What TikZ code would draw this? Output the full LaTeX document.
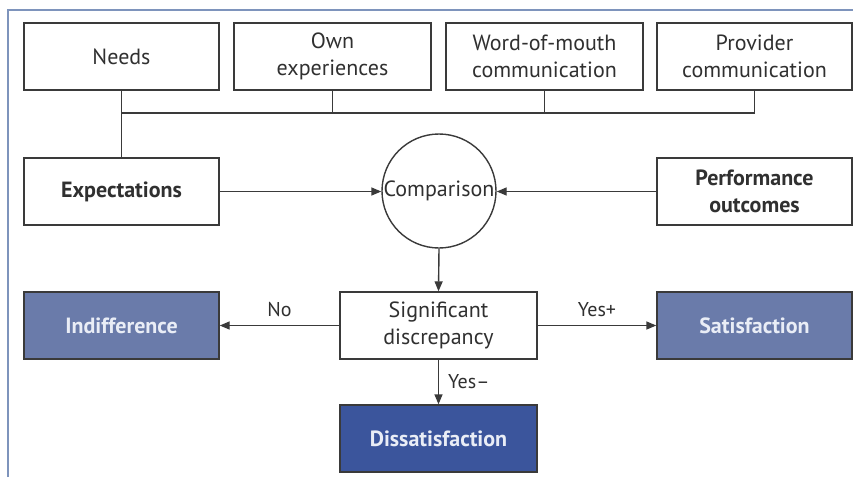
\documentclass[tikz,border=0pt]{standalone}
\usepackage{fontspec}
\setmainfont{PT Sans}
\usetikzlibrary{arrows.meta}
\definecolor{framec}{HTML}{7E94BC}
\definecolor{linec}{HTML}{3A3A3A}
\definecolor{textc}{HTML}{303030}
\definecolor{midblue}{HTML}{6A7BAA}
\definecolor{deepblue}{HTML}{3B559C}
\definecolor{paletext}{HTML}{E9EDF6}
\newcommand\boxfont{\fontsize{22}{27}\selectfont}
\tikzset{
  box/.style={draw=linec, line width=1.4pt, fill=white, minimum width=195pt,
    minimum height=67pt, align=center, text=textc, font=\boxfont, inner sep=0pt},
  boldbox/.style={box, font=\boxfont\bfseries},
  outbox/.style={box, fill=midblue, text=paletext, font=\boxfont\bfseries},
  darkbox/.style={outbox, fill=deepblue},
  wire/.style={draw=linec, line width=1.4pt},
  flow/.style={wire, -{Triangle[length=10pt,width=8pt]}},
  lbl/.style={text=textc, font=\fontsize{20}{24}\selectfont, inner sep=0pt}
}
\begin{document}
\begin{tikzpicture}[x=1pt,y=-1pt]
\useasboundingbox (0,0) rectangle (853,477);
\fill[white] (0,0) rectangle (853,477);
% outer frame (top and left edges)
\draw[framec, line width=1.4pt] (8,477) -- (8,10) -- (853,10);

% sources of expectations
\node[box] (needs) at (121.5,56.5) {Needs};
\node[box, minimum width=197pt] (own) at (332.5,56.5) {Own\\experiences};
\node[box, minimum width=197pt] (wom) at (544.5,56.5) {Word-of-mouth\\communication};
\node[box] (prov) at (754.5,56.5) {Provider\\communication};

% comparison stage
\node[boldbox] (exp) at (121.5,191.5) {Expectations};
\node[boldbox] (perf) at (754.5,191.5) {Performance\\outcomes};
\node[draw=linec, line width=1.4pt, circle, minimum size=114pt, inner sep=0pt,
      text=textc, font=\boxfont] (cmp) at (439,191) {Comparison};

% outcomes
\node[box, minimum width=197pt] (sig) at (438.5,325.5) {Significant\\discrepancy};
\node[outbox] (ind) at (121.5,325.5) {Indifference};
\node[outbox] (sat) at (754.5,325.5) {Satisfaction};
\node[darkbox, minimum width=197pt] (dis) at (438.5,438.5) {Dissatisfaction};

% bus joining the four sources
\coordinate (bus) at (0,113);
\draw[wire] (needs.south) -- (exp.north);
\draw[wire] (needs.south |- bus) -- (prov.south |- bus);
\draw[wire] (own.south) -- (own.south |- bus);
\draw[wire] (wom.south) -- (wom.south |- bus);
\draw[wire] (prov.south) -- (prov.south |- bus);

% arrows
\draw[flow] (exp.east) -- (exp.east -| cmp.west);
\draw[flow] (perf.west) -- (perf.west -| cmp.east);
\draw[flow] (cmp.south) -- (sig.north);
\draw[flow] (sig.west) -- node[lbl, above=8pt] {No} (ind.east);
\draw[flow] (sig.east) -- node[lbl, above=8pt] {Yes+} (sat.west);
\draw[flow] (sig.south) -- node[lbl, right=9pt] {Yes–} (dis.north);
\end{tikzpicture}
\end{document}
